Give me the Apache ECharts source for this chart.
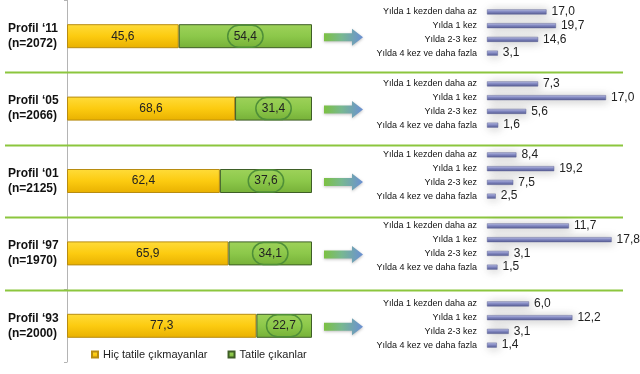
<!DOCTYPE html>
<html><head><meta charset="utf-8">
<script src="https://cdn.jsdelivr.net/npm/echarts@6/dist/echarts.min.js"></script>
<style>html,body{margin:0;padding:0;background:#fff}#c{width:640px;height:374px}</style>
</head><body><div id="c"></div>
<script>
const profiles = ["Profil ‘11", "Profil ‘05", "Profil ‘01", "Profil ‘97", "Profil ‘93"];
const sampleSizes = ["(n=2072)", "(n=2066)", "(n=2125)", "(n=1970)", "(n=2000)"];
const seriesNames = ["Hiç tatile çıkmayanlar", "Tatile çıkanlar"];
const notTravelling = [45.6, 68.6, 62.4, 65.9, 77.3];
const travelling = [54.4, 31.4, 37.6, 34.1, 22.7];
const frequencyCats = ["Yılda 1 kezden daha az", "Yılda 1 kez", "Yılda 2-3 kez", "Yılda 4 kez ve daha fazla"];
const freq11 = [17.0, 19.7, 14.6, 3.1];
const freq05 = [7.3, 17.0, 5.6, 1.6];
const freq01 = [8.4, 19.2, 7.5, 2.5];
const freq97 = [11.7, 17.8, 3.1, 1.5];
const freq93 = [6.0, 12.2, 3.1, 1.4];
const panelMax = [40, 20, 40, 20, 20];

const freqPanels = [freq11, freq05, freq01, freq97, freq93];
const panelTops = [5, 77, 148, 219, 297];
const fmt = v => (typeof v === 'object' ? v.value : v).toFixed(1).replace('.', ',');
const FONT = 'Arial, "Liberation Sans", sans-serif';

const chart = echarts.init(document.getElementById('c'), null, {renderer: 'canvas'});

const grids = [{left: 67, top: -7, width: 245, height: 369}];
const xAxes = [{gridIndex: 0, type: 'value', min: 0, max: 100, show: false}];
const yAxes = [{
  gridIndex: 0, type: 'category', inverse: true, data: profiles,
  axisLine: {show: true, lineStyle: {color: '#b4b4b4', width: 1}},
  axisTick: {show: true, length: 3, lineStyle: {color: '#b4b4b4'}},
  axisLabel: {
    formatter: (v, i) => v + '\n' + sampleSizes[i],
    align: 'left', margin: 59, fontFamily: FONT, fontSize: 12, fontWeight: 'bold',
    color: '#111', lineHeight: 15
  }
}];

const series = [
  {
    name: seriesNames[0], type: 'bar', stack: 'total', xAxisIndex: 0, yAxisIndex: 0,
    barWidth: 24, data: notTravelling,
    itemStyle: {
      color: new echarts.graphic.LinearGradient(0, 0, 0, 1, [
        {offset: 0, color: '#ffdc3a'}, {offset: 0.5, color: '#fccb10'}, {offset: 1, color: '#e8b000'}
      ]),
      borderColor: '#b88c10', borderWidth: 1
    },
    label: {show: true, position: 'inside', formatter: p => fmt(p.value), fontFamily: FONT, fontSize: 12, color: '#222'}
  },
  {
    name: seriesNames[1], type: 'bar', stack: 'total', xAxisIndex: 0, yAxisIndex: 0,
    barWidth: 24, data: travelling,
    itemStyle: {
      color: new echarts.graphic.LinearGradient(0, 0, 0, 1, [
        {offset: 0, color: '#9ed25a'}, {offset: 0.5, color: '#8cc84a'}, {offset: 1, color: '#76b038'}
      ]),
      borderColor: '#3e5e26', borderWidth: 1
    },
    label: {
      show: true, position: 'inside', formatter: p => fmt(p.value), fontFamily: FONT, fontSize: 12, color: '#222',
      borderColor: '#4f8f38', borderWidth: 1.5, borderRadius: 11, padding: [5, 6]
    }
  }
];

freqPanels.forEach((vals, k) => {
  const gi = k + 1;
  grids.push({left: 487, top: panelTops[k], width: 140, height: 55});
  xAxes.push({gridIndex: gi, type: 'value', min: 0, max: panelMax[k], show: false});
  yAxes.push({
    gridIndex: gi, type: 'category', inverse: true, data: frequencyCats,
    axisLine: {show: false}, axisTick: {show: false},
    axisLabel: {margin: 10, fontFamily: FONT, fontSize: 9, color: '#111'}
  });
  series.push({
    type: 'bar', xAxisIndex: gi, yAxisIndex: gi, data: vals, barWidth: 5,
    itemStyle: {
      color: new echarts.graphic.LinearGradient(0, 0, 0, 1, [
        {offset: 0, color: '#c4c8ec'}, {offset: 0.45, color: '#868cc6'}, {offset: 1, color: '#585e96'}
      ]),
      borderColor: '#5c6194', borderWidth: 0.5,
      shadowColor: 'rgba(0,0,0,0.28)', shadowBlur: 10, shadowOffsetX: 2, shadowOffsetY: 1
    },
    label: {show: true, position: 'right', distance: 5, formatter: p => fmt(p.value), fontFamily: FONT, fontSize: 12, color: '#222'}
  });
});

chart.setOption({
  animation: false,
  backgroundColor: '#fff',
  grid: grids, xAxis: xAxes, yAxis: yAxes, series: series,
  legend: {
    data: seriesNames, left: 86, top: 344, itemWidth: 6, itemHeight: 6, icon: 'rect', itemGap: 20,
    textStyle: {fontFamily: FONT, fontSize: 11, color: '#222'}
  }
});

// decorations: separators and arrows, positioned from the axis scale
const centers = profiles.map(p => chart.convertToPixel({yAxisIndex: 0}, p));
const elems = [];
for (let i = 0; i < centers.length - 1; i++) {
  const y = Math.round((centers[i] + centers[i + 1]) / 2) + 0.5;
  elems.push({type: 'line', shape: {x1: 5, y1: y, x2: 623, y2: y}, style: {stroke: '#8cc63e', lineWidth: 2}, z: 1});
}
centers.forEach(cy => {
  const y = cy + 1;
  elems.push({
    type: 'polygon',
    shape: {points: [[324, y - 4], [352, y - 4], [352, y - 8.5], [363, y], [352, y + 8.5], [352, y + 4], [324, y + 4]]},
    style: {fill: new echarts.graphic.LinearGradient(0, 0, 1, 0, [
      {offset: 0, color: '#7cc142'}, {offset: 0.45, color: '#78b890'}, {offset: 1, color: '#6a8fd4'}
    ]), shadowColor: 'rgba(0,0,0,0.25)', shadowBlur: 3, shadowOffsetY: 1},
    z: 5
  });
});
chart.setOption({graphic: elems});
</script>
</body></html>
